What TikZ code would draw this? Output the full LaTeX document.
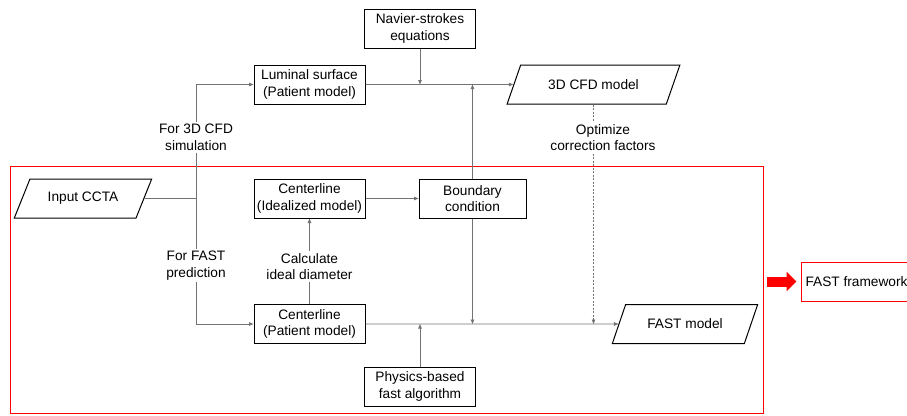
\documentclass[tikz,border=0pt]{standalone}
\usepackage{fontspec}
\setmainfont{Liberation Sans}
\usetikzlibrary{positioning,arrows.meta,shapes.geometric}

\begin{document}
\begin{tikzpicture}[x=1pt, y=-1pt, >={Triangle[length=4.5pt,width=3.5pt]},
    font=\fontsize{13.7}{16.5}\selectfont,
    blk/.style={draw, line width=1pt, minimum width=111pt, minimum height=39pt, inner sep=0pt, align=center},
    para/.style={draw, line width=1pt, trapezium, trapezium left angle=50, trapezium right angle=130,
      trapezium stretches=true, minimum height=39pt, inner sep=0pt},
    conn/.style={draw=black!55, line width=0.8pt},
    lbl/.style={fill=white, align=center, inner sep=2pt}]
  \useasboundingbox (0,0) rectangle (907,415);
  % FAST part
  \node[draw=red, line width=1pt, minimum width=753pt, minimum height=247pt, inner sep=0pt] (zone) at (386.5,289.5) {};

  \node[blk] (navier) at (420,28.5) {Navier-strokes\\equations};
  \node[blk] (lumen) at (309.5,84.5) {Luminal surface\\(Patient model)};
  \node[para, minimum width=173pt] (cfd) at (593.5,84.5) {3D CFD model};
  \node[para, minimum width=138pt] (ccta) at (83,198.5) {Input CCTA};
  \node[blk] (ideal) at (309.5,198.5) {Centerline\\(Idealized model)};
  \node[blk, minimum width=107pt] (bc) at (472.5,198.5) {Boundary\\condition};
  \node[blk] (pcl) at (309.5,324) {Centerline\\(Patient model)};
  \node[blk] (phys) at (420,386.5) {Physics-based\\fast algorithm};
  \node[para, minimum width=146pt] (fast) at (685,324) {FAST model};
  \node[blk, draw=red] (frame) at (856.5,281.5) {FAST framework};

  \coordinate (split) at (196,198.5);
  \coordinate (nsin) at (navier.south |- lumen.east);
  \coordinate (bcup) at (bc.north |- lumen.east);
  \coordinate (bcdn) at (bc.south |- pcl.east);
  \coordinate (phin) at (phys.north |- pcl.east);
  \coordinate (optin) at (cfd.south |- pcl.east);

  \draw[conn] (ccta.east) -- (split);
  \draw[conn,->] (split) |- (lumen.west);
  \draw[conn,->] (split) |- (pcl.west);
  \draw[conn,->] (lumen.east) -- (cfd.west);
  \draw[conn,->] (navier.south) -- (nsin);
  \draw[conn,->] (bc.north) -- (bcup);
  \draw[conn,->] (ideal.east) -- (bc.west);
  \draw[conn,->] (bc.south) -- (bcdn);
  \draw[conn,->] (pcl.north) -- (ideal.south);
  \draw[conn,->] (pcl.east) -- (fast.west);
  \draw[conn,->] (phys.north) -- (phin);
  \draw[conn,dash pattern=on 2pt off 1.5pt,->] (cfd.south) -- (optin);

  \node[lbl] (l3d) at (196,137.5) {For 3D CFD\\simulation};
  \node[lbl] (lfast) at (196,265.5) {For FAST\\prediction};
  \node[lbl] (lcalc) at (309.5,266.5) {Calculate\\ideal diameter};
  \node[lbl] (lopt) at (603,137.5) {Optimize\\correction factors};

  \draw[red, line width=10pt, -{Triangle[length=10pt,width=19pt]}, shorten <=3pt, shorten >=4pt]
    (zone.east |- frame.west) -- (frame.west);
\end{tikzpicture}
\end{document}
